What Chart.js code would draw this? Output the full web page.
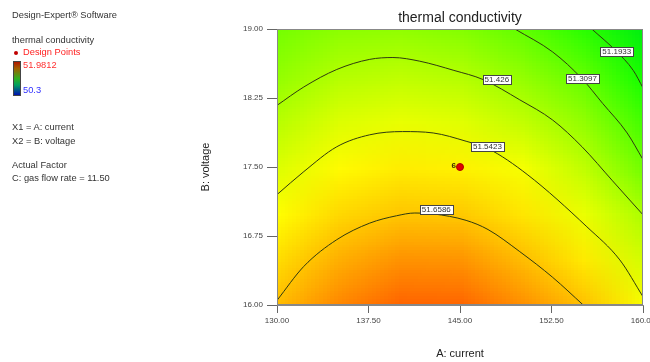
<!DOCTYPE html>
<html>
<head>
<meta charset="utf-8">
<script src="https://cdn.jsdelivr.net/npm/chart.js@4.4.1/dist/chart.umd.min.js"></script>
<style>
  body { margin: 0; background: #fff; font-family: "Liberation Sans", Arial, sans-serif; }
  #wrap { position: relative; width: 650px; height: 362px; }
  #side { position: absolute; left: 0; top: 0; width: 190px; height: 362px; font-size: 9.3px; color: #333; }
  #side div { position: absolute; left: 12px; line-height: 11px; white-space: nowrap; }
  #bar { position: absolute; left: 13px; top: 61px; width: 6px; height: 33px; border: 1px solid #444;
         background: linear-gradient(to bottom, #b01800, #a06000 20%, #30b020 50%, #00a060 70%, #0010b0); }
  #dot { position: absolute; left: 14px; top: 51px; width: 4px; height: 4px; border-radius: 50%; background: #c00000; }
</style>
</head>
<body>
<div id="wrap">
  <canvas id="myChart" width="650" height="362"></canvas>
  <div id="side">
    <div style="top:10px">Design-Expert® Software</div>
    <div style="top:35px">thermal conductivity</div>
    <span id="dot"></span>
    <div style="top:47px; left:23px; color:#ff2020">Design Points</div>
    <span id="bar"></span>
    <div style="top:60px; left:23px; color:#ff3030">51.9812</div>
    <div style="top:85px; left:23px; color:#3030ff">50.3</div>
    <div style="top:122px">X1 = A: current</div>
    <div style="top:136px">X2 = B: voltage</div>
    <div style="top:160px">Actual Factor</div>
    <div style="top:173px">C: gas flow rate = 11.50</div>
  </div>
</div>
<script>
const chartTitle = "thermal conductivity";
const xTickValues = [130, 137.5, 145, 152.5, 160];
const yTickValues = [16, 16.75, 17.5, 18.25, 19];

// response grid (rows: voltage 16 -> 19, cols: current 130 -> 160)
const gridX = [130, 135, 140, 145, 150, 155, 160];
const gridY = [16, 16.5, 17, 17.5, 18, 18.5, 19];
const gridValues = [
  [51.675, 51.760, 51.818, 51.815, 51.745, 51.665, 51.554],
  [51.618, 51.695, 51.740, 51.738, 51.672, 51.596, 51.489],
  [51.563, 51.626, 51.655, 51.650, 51.602, 51.528, 51.422],
  [51.506, 51.568, 51.591, 51.583, 51.546, 51.457, 51.325],
  [51.446, 51.505, 51.525, 51.512, 51.460, 51.382, 51.247],
  [51.383, 51.438, 51.453, 51.437, 51.381, 51.302, 51.170],
  [51.335, 51.373, 51.381, 51.359, 51.302, 51.212, 51.087]
];
const colorMin = 50.3;
const colorMax = 51.9812;

// contour lines
const contourLevels = [51.6586, 51.5423, 51.426, 51.3097, 51.1933];
const contour1 = [[130,16.05],[132.2,16.42],[134.9,16.71],[137.6,16.89],[139.8,16.97],[141.3,17.0],[142.8,16.99],[145.5,16.92],[147.3,16.82],[149.9,16.58],[152.6,16.30],[155.1,16.0]];
const contour2 = [[130,17.20],[132.2,17.45],[134.9,17.72],[137.6,17.85],[140.3,17.885],[142.8,17.87],[145.5,17.78],[147.3,17.70],[150.5,17.42],[155.4,16.85],[158.1,16.49],[160,16.09]];
const contour3 = [[130,18.17],[132.2,18.37],[134.9,18.56],[137.6,18.67],[139.5,18.69],[141.7,18.65],[144.5,18.55],[146.9,18.45],[149.9,18.23],[152.6,18.01],[155.0,17.72],[157.5,17.35],[160,16.98]];
const contour4 = [[149.5,19.0],[152.6,18.75],[155.0,18.46],[156.7,18.19],[158.7,17.87],[160,17.58]];
const contour5 = [[155.8,19.0],[157.8,18.76],[159.2,18.55],[160,18.36]];
const contourLabelX = [143.06, 147.25, 148.02, 155.04, 157.85];
const contourLabelY = [17.04, 17.72, 18.45, 18.46, 18.76];

const designX = [145];
const designY = [17.5];
const designLabels = ["6"];

const colorStops = [[0, [0, 0, 255]], [0.5, [0, 255, 0]], [0.75, [255, 255, 0]], [1, [255, 0, 0]]];
const valueColor = (v) => {
  const t = Math.max(0, Math.min(1, (v - colorMin) / (colorMax - colorMin)));
  for (let i = 1; i < colorStops.length; i++) {
    if (t <= colorStops[i][0]) {
      const [t0, c0] = colorStops[i - 1];
      const [t1, c1] = colorStops[i];
      const f = (t - t0) / (t1 - t0);
      return c0.map((c, k) => Math.round(c + (c1[k] - c) * f));
    }
  }
  return colorStops[colorStops.length - 1][1];
};

const heatmapPlugin = {
  id: "heatmap",
  beforeDatasetsDraw(chart) {
    const { ctx, chartArea, scales } = chart;
    const off = document.createElement("canvas");
    off.width = gridX.length;
    off.height = gridY.length;
    const octx = off.getContext("2d");
    const img = octx.createImageData(off.width, off.height);
    gridY.forEach((yv, j) => {
      const row = gridY.length - 1 - j;
      gridX.forEach((xv, i) => {
        const c = valueColor(gridValues[j][i]);
        const p = (row * off.width + i) * 4;
        img.data[p] = c[0]; img.data[p + 1] = c[1]; img.data[p + 2] = c[2]; img.data[p + 3] = 255;
      });
    });
    octx.putImageData(img, 0, 0);
    const cw = scales.x.getPixelForValue(gridX[1]) - scales.x.getPixelForValue(gridX[0]);
    const ch = scales.y.getPixelForValue(gridY[0]) - scales.y.getPixelForValue(gridY[1]);
    const left = scales.x.getPixelForValue(gridX[0]) - cw / 2;
    const top = scales.y.getPixelForValue(gridY[gridY.length - 1]) - ch / 2;
    ctx.save();
    ctx.beginPath();
    ctx.rect(chartArea.left, chartArea.top, chartArea.right - chartArea.left, chartArea.bottom - chartArea.top);
    ctx.clip();
    ctx.imageSmoothingEnabled = true;
    ctx.drawImage(off, left, top, cw * gridX.length, ch * gridY.length);
    ctx.restore();
  }
};

const labelsPlugin = {
  id: "labels",
  afterDatasetsDraw(chart) {
    const { ctx, chartArea, scales } = chart;
    ctx.save();
    ctx.strokeStyle = "#888";
    ctx.lineWidth = 1;
    ctx.strokeRect(chartArea.left + 0.5, chartArea.top + 0.5, chartArea.right - chartArea.left - 1, chartArea.bottom - chartArea.top - 1);

    ctx.font = "8px 'Liberation Sans', Arial";
    ctx.textAlign = "center";
    ctx.textBaseline = "middle";
    contourLevels.forEach((lvl, i) => {
      const px = scales.x.getPixelForValue(contourLabelX[i]);
      const py = scales.y.getPixelForValue(contourLabelY[i]);
      const text = String(lvl);
      const w = ctx.measureText(text).width + 4;
      ctx.fillStyle = "#fff";
      ctx.fillRect(Math.round(px - w / 2) + 0.5, Math.round(py - 4.5) + 0.5, Math.round(w), 9);
      ctx.strokeStyle = "#444";
      ctx.strokeRect(Math.round(px - w / 2) + 0.5, Math.round(py - 4.5) + 0.5, Math.round(w), 9);
      ctx.fillStyle = "#333";
      ctx.fillText(text, px, py + 0.5);
    });

    ctx.font = "bold 8px 'Liberation Sans', Arial";
    ctx.textAlign = "right";
    designLabels.forEach((t, i) => {
      ctx.fillStyle = "#3a2a00";
      ctx.fillText(t, scales.x.getPixelForValue(designX[i]) - 4, scales.y.getPixelForValue(designY[i]) - 1);
    });

    ctx.font = "14px 'Liberation Sans', Arial";
    ctx.textAlign = "center";
    ctx.textBaseline = "alphabetic";
    ctx.fillStyle = "#222";
    ctx.fillText(chartTitle, (chartArea.left + chartArea.right) / 2, 22);
    ctx.restore();
  }
};

const toPoints = (arr) => arr.map(([x, y]) => ({ x, y }));
const contourSets = [contour1, contour2, contour3, contour4, contour5].map((c) => ({
  data: toPoints(c),
  showLine: true,
  pointRadius: 0,
  borderColor: "#2f3a10",
  borderWidth: 1,
  cubicInterpolationMode: "monotone"
}));

const tickFont = { family: "'Liberation Sans', Arial", size: 8 };

const config = {
  type: "scatter",
  data: {
    datasets: [
      ...contourSets,
      {
        data: designX.map((x, i) => ({ x, y: designY[i] })),
        pointRadius: 3.5,
        backgroundColor: "#e00000",
        borderColor: "#b00000",
        borderWidth: 1
      }
    ]
  },
  options: {
    responsive: false,
    animation: false,
    layout: { padding: { left: 195, right: 7, top: 29, bottom: 0 } },
    plugins: { legend: { display: false }, tooltip: { enabled: false } },
    scales: {
      x: {
        type: "linear",
        min: 130,
        max: 160,
        afterBuildTicks: (s) => { s.ticks = xTickValues.map((v) => ({ value: v })); },
        afterFit: (s) => { s.height = 57; s.paddingLeft = 0; s.paddingRight = 0; },
        ticks: { callback: (v) => Number(v).toFixed(2), font: tickFont, color: "#444", padding: 3, maxRotation: 0 },
        grid: { drawOnChartArea: false, tickLength: 8, color: "#666" },
        border: { color: "#888" },
        title: { display: true, text: "A: current", font: { family: "'Liberation Sans', Arial", size: 11 }, color: "#222", padding: { top: 2, bottom: 1 } }
      },
      y: {
        type: "linear",
        min: 16,
        max: 19,
        afterBuildTicks: (s) => { s.ticks = yTickValues.map((v) => ({ value: v })); },
        afterFit: (s) => { s.width = 82; s.paddingTop = 0; s.paddingBottom = 0; },
        ticks: { callback: (v) => Number(v).toFixed(2), font: tickFont, color: "#444", padding: 4 },
        grid: { drawOnChartArea: false, tickLength: 10, color: "#666" },
        border: { color: "#888" },
        title: { display: true, text: "B: voltage", font: { family: "'Liberation Sans', Arial", size: 11 }, color: "#222", padding: { top: 4, bottom: 2 } }
      }
    }
  },
  plugins: [heatmapPlugin, labelsPlugin]
};

window.onload = () => {
  new Chart(document.getElementById("myChart"), config);
};
</script>
</body>
</html>
